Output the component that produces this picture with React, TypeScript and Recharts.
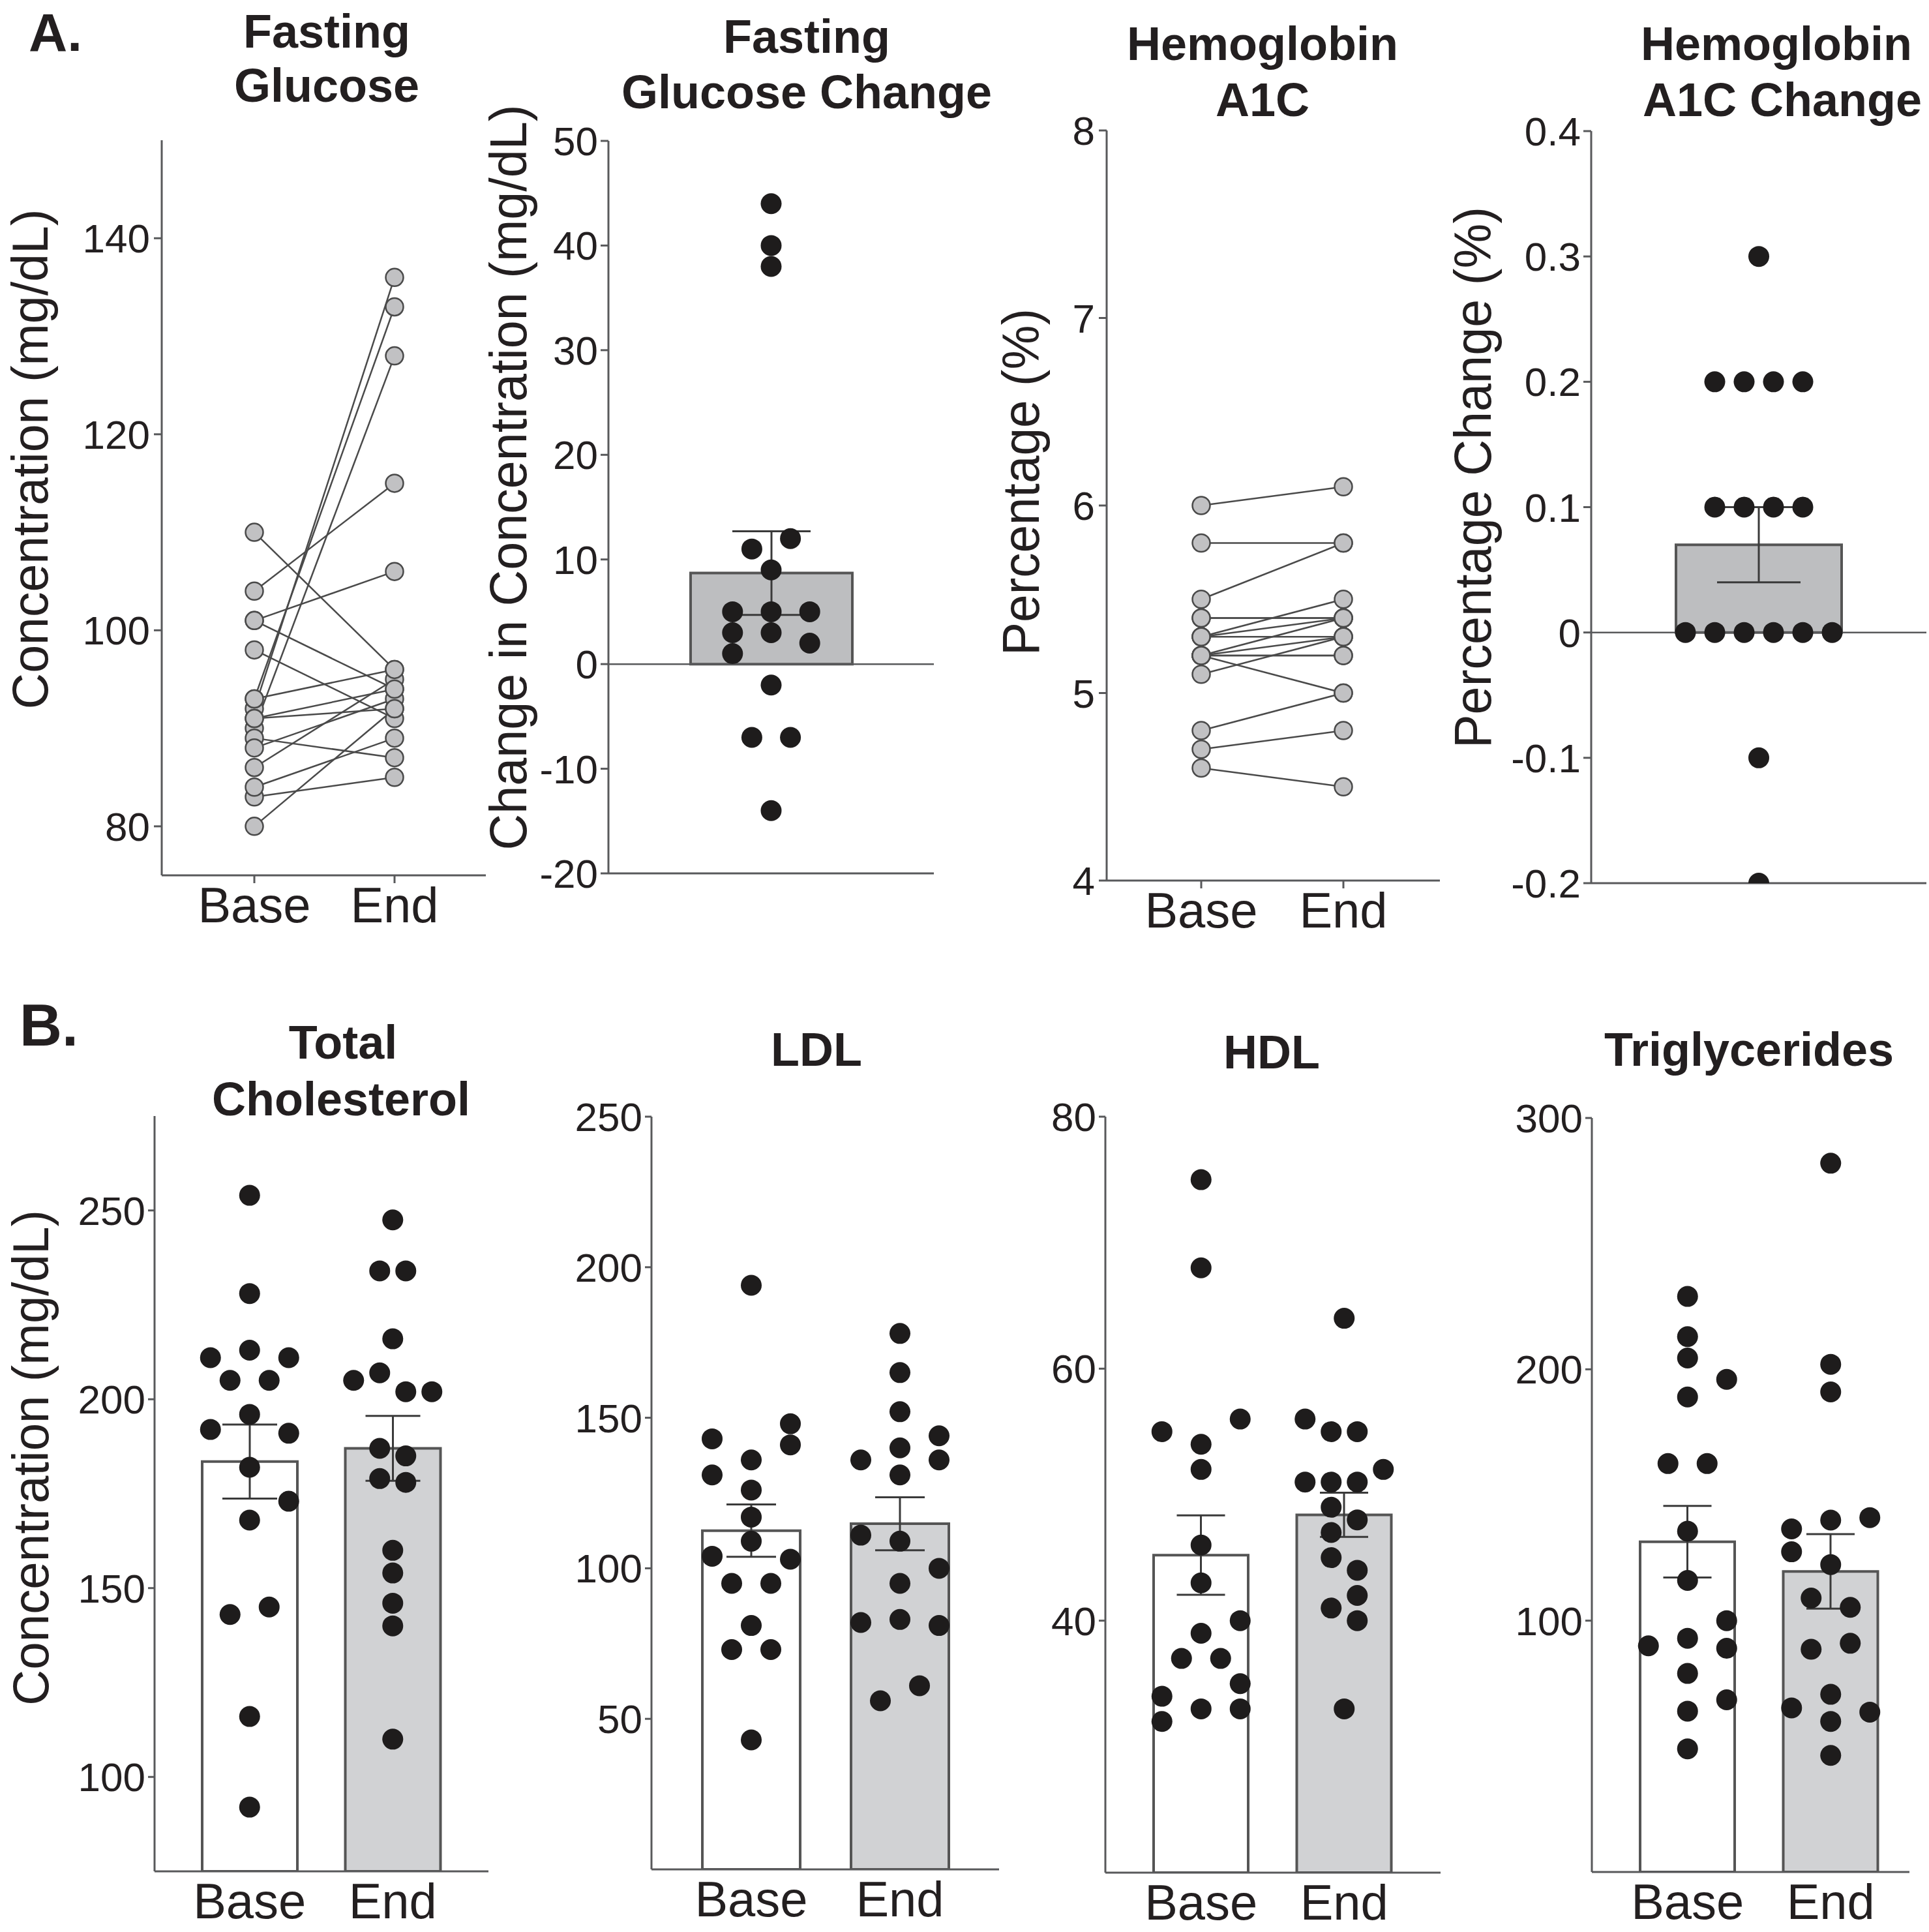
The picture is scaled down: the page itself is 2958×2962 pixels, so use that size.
import React from 'react';
import {
  ComposedChart,
  LineChart,
  Line,
  Bar,
  Cell,
  ErrorBar,
  Scatter,
  XAxis,
  YAxis,
  ReferenceLine,
} from 'recharts';

// ================= DATA =================
const groupNames = ['Base', 'End'];

// A. Fasting glucose (mg/dL), paired per subject
const glucoseBase = [110, 104, 101, 101, 98, 92, 93, 90, 80, 83, 84, 86, 89, 88, 91, 93, 91];
const glucoseEnd = [96, 115, 106, 94, 91, 136, 133, 128, 92, 85, 89, 95, 87, 93, 94, 96, 92];
const glucoseTicks = [80, 100, 120, 140];

// A. Fasting glucose change (mg/dL)
const glucoseChange = [44, 40, 38, 12, 11, 9, 5, 5, 5, 3, 3, 2, 1, -2, -7, -7, -14];
const glucoseChangeSlot = [0, 0, 0, 1, -1, 0, -2, 0, 2, -2, 0, 2, -2, 0, -1, 1, 0];
const glucoseChangeMean = [8.7];
const glucoseChangeSem = [4.0];
const glucoseChangeTicks = [-20, -10, 0, 10, 20, 30, 40, 50];

// A. Hemoglobin A1C (%), paired per subject
const a1cBase = [6.0, 5.8, 5.5, 5.4, 5.4, 5.3, 5.3, 5.3, 5.2, 5.2, 5.2, 5.2, 5.1, 4.8, 4.7, 4.6, 5.2];
const a1cEnd = [6.1, 5.8, 5.8, 5.4, 5.4, 5.5, 5.3, 5.4, 5.3, 5.2, 5.0, 5.4, 5.3, 5.0, 4.8, 4.5, 5.2];
const a1cTicks = [4, 5, 6, 7, 8];

// A. Hemoglobin A1C change (%)
const a1cChange = [0.3, 0.2, 0.2, 0.2, 0.2, 0.1, 0.1, 0.1, 0.1, 0, 0, 0, 0, 0, 0, -0.1, -0.2];
const a1cChangeSlot = [0, -1.5, -0.5, 0.5, 1.5, -1.5, -0.5, 0.5, 1.5, -2.5, -1.5, -0.5, 0.5, 1.5, 2.5, 0, 0];
const a1cChangeMean = [0.07];
const a1cChangeSem = [0.03];
const a1cChangeTicks = [-0.2, -0.1, 0, 0.1, 0.2, 0.3, 0.4];

// B. Total cholesterol (mg/dL)
const tcBase = [254, 228, 213, 211, 211, 205, 205, 196, 192, 191, 182, 173, 168, 143, 145, 116, 92];
const tcBaseSlot = [0, 0, 0, -3, 3, -1.5, 1.5, 0, -3, 3, 0, 3, 0, -1.5, 1.5, 0, 0];
const tcEnd = [247.5, 234, 234, 216, 207, 205, 202, 202, 187, 185, 179, 178, 160, 154, 146, 140, 110];
const tcEndSlot = [0, -1, 1, 0, -1, -3, 1, 3, -1, 1, -1, 1, 0, 0, 0, 0, 0];
const tcMean = [183.5, 187];
const tcSem = [9.8, 8.6];
const tcTicks = [100, 150, 200, 250];

// B. LDL (mg/dL)
const ldlBase = [194, 143, 148, 141, 136, 131, 126, 117, 109, 104, 103, 95, 95, 81, 73, 73, 43];
const ldlBaseSlot = [0, -3, 3, 3, 0, -3, 0, 0, 0, -3, 3, -1.5, 1.5, 0, -1.5, 1.5, 0];
const ldlEnd = [178, 165, 152, 144, 140, 136, 136, 131, 111, 109, 100, 95, 82, 83, 81, 61, 56];
const ldlEndSlot = [0, 0, 0, 3, 0, -3, 3, 0, -3, 0, 3, 0, -3, 0, 3, 1.5, -1.5];
const ldlMean = [112.5, 114.8];
const ldlSem = [8.7, 8.8];
const ldlTicks = [50, 100, 150, 200, 250];

// B. HDL (mg/dL)
const hdlBase = [75, 68, 55, 54, 56, 52, 46, 43, 40, 39, 37, 37, 35, 34, 33, 33, 32];
const hdlBaseSlot = [0, 0, -3, 0, 3, 0, 0, 0, 3, 0, -1.5, 1.5, 3, -3, 0, 3, -3];
const hdlEnd = [64, 56, 55, 55, 52, 51, 51, 51, 49, 48, 47, 45, 44, 42, 41, 40, 33];
const hdlEndSlot = [0, -3, -1, 1, 3, -3, -1, 1, -1, 1, -1, -1, 1, 1, -1, 1, 0];
const hdlMean = [45.2, 48.4];
const hdlSem = [3.15, 1.75];
const hdlTicks = [40, 60, 80];

// B. Triglycerides (mg/dL)
const tgBase = [229, 213, 204.5, 196, 189, 162.5, 162.5, 135.6, 116, 100, 93, 90, 89, 79, 68.5, 64, 49];
const tgBaseSlot = [0, 0, 0, 3, 0, -1.5, 1.5, 0, 0, 3, 0, -3, 3, 0, 3, 0, 0];
const tgEnd = [282, 202, 191, 141, 140, 136.5, 127.4, 122.3, 109, 105.3, 91, 88.6, 70.7, 65.3, 63.6, 59.9, 46.4];
const tgEndSlot = [0, 0, 0, 3, 0, -3, -3, 0, -1.5, 1.5, 1.5, -1.5, 0, -3, 3, 0, 0];
const tgMean = [131.4, 119.6];
const tgSem = [14.25, 14.8];
const tgTicks = [100, 200, 300];

// ================= STYLE =================
const FONT = '"Liberation Sans", Arial, Helvetica, sans-serif';
const INK = '#231f20';
const AXIS = '#58595b';
const LINE = '#4a4a4a';
const DOT = '#1e1c1c';
const GREY_A = '#bdbec0';
const GREY_B = '#d1d2d4';

const YW = 200;
const TM = 56;
const RM = 24;
const XH = 130;
const MARGIN = { top: TM, right: RM, bottom: 0, left: 0 };

type Rect = { l: number; t: number; r: number; b: number };

const dims = (rect: Rect) => ({
  width: rect.r - rect.l + YW + RM,
  height: rect.b - rect.t + TM + XH,
});

function Holder({ rect, children }: { rect: Rect; children: React.ReactNode }) {
  return (
    <div style={{ position: 'absolute', left: rect.l - YW, top: rect.t - TM }}>{children}</div>
  );
}

const yAxisProps = (tickSize: number, tickMargin: number) => ({
  type: 'number' as const,
  width: YW,
  axisLine: { stroke: AXIS, strokeWidth: 3 },
  tickLine: { stroke: AXIS, strokeWidth: 3 },
  tickSize,
  tickMargin,
  tick: { fontSize: 62, fill: INK, fontFamily: FONT },
  interval: 0 as const,
  allowDataOverflow: true,
});

const BlackDot = (p: any) =>
  p.cx == null || p.cy == null ? <g /> : <circle cx={p.cx} cy={p.cy} r={16} fill={DOT} />;

// ---------- paired line panel ----------
function PairPanel({
  rect,
  pad,
  base,
  end,
  domain,
  ticks,
}: {
  rect: Rect;
  pad: [number, number];
  base: number[];
  end: number[];
  domain: [number, number];
  ticks: number[];
}) {
  const keys = base.map((_, i) => 's' + i);
  const rows = [groupNames[0], groupNames[1]].map((name, gi) => {
    const row: any = { name };
    keys.forEach((k, i) => {
      row[k] = gi === 0 ? base[i] : end[i];
    });
    return row;
  });
  const { width, height } = dims(rect);
  return (
    <Holder rect={rect}>
      <LineChart width={width} height={height} data={rows} margin={MARGIN}>
        <XAxis
          dataKey="name"
          type="category"
          scale="point"
          padding={{ left: pad[0], right: pad[1] }}
          axisLine={{ stroke: AXIS, strokeWidth: 3 }}
          tickLine={{ stroke: AXIS, strokeWidth: 3 }}
          tickSize={12}
          tickMargin={6}
          tick={{ fontSize: 76, fill: INK, fontFamily: FONT }}
          height={XH}
          interval={0}
        />
        <YAxis {...yAxisProps(12, 6)} domain={domain} ticks={ticks} />
        {keys.map((k) => (
          <Line
            key={'l' + k}
            dataKey={k}
            stroke={LINE}
            strokeWidth={2.5}
            dot={false}
            activeDot={false}
            isAnimationActive={false}
          />
        ))}
        {keys.map((k) => (
          <Line
            key={'d' + k}
            dataKey={k}
            stroke="none"
            dot={{ r: 13.5, fill: '#c1c1c3', stroke: LINE, strokeWidth: 2.5 }}
            activeDot={false}
            isAnimationActive={false}
          />
        ))}
      </LineChart>
    </Holder>
  );
}

// ---------- bar + swarm panel ----------
function SwarmPanel({
  rect,
  pad,
  cats,
  means,
  sems,
  groups,
  fills,
  domain,
  ticks,
  fmt,
  slotPx,
  barSize,
  capHalf,
  showCats,
  zero,
  yTickSize,
}: {
  rect: Rect;
  pad: [number, number];
  cats: string[];
  means: number[];
  sems: number[];
  groups: { vals: number[]; slots: number[] }[];
  fills: string[];
  domain: [number, number];
  ticks: number[];
  fmt?: (v: number) => string;
  slotPx: number;
  barSize: number;
  capHalf: number;
  showCats: boolean;
  zero: boolean;
  yTickSize: number;
}) {
  const { width, height } = dims(rect);
  const plotW = rect.r - rect.l;
  const bw = (plotW - pad[0] - pad[1]) / cats.length;
  const slotUnit = slotPx / bw;
  const rows = cats.map((name, i) => ({ name, mean: means[i], sem: sems[i] }));
  const pts = groups.flatMap((g, gi) =>
    g.vals.map((v, j) => ({ x: gi + g.slots[j] * slotUnit, y: v }))
  );
  return (
    <Holder rect={rect}>
      <ComposedChart width={width} height={height} data={rows} margin={MARGIN}>
        <XAxis
          xAxisId="cat"
          dataKey="name"
          type="category"
          padding={{ left: pad[0], right: pad[1] }}
          axisLine={{ stroke: AXIS, strokeWidth: 3 }}
          tickLine={false}
          tickSize={10}
          tickMargin={8}
          tick={showCats ? { fontSize: 76, fill: INK, fontFamily: FONT } : false}
          height={XH}
          interval={0}
        />
        <XAxis
          xAxisId="num"
          dataKey="x"
          type="number"
          domain={[-0.5, cats.length - 0.5]}
          padding={{ left: pad[0], right: pad[1] }}
          allowDataOverflow
          height={0}
          hide
        />
        <YAxis
          yAxisId="v"
          {...yAxisProps(yTickSize, 4)}
          domain={domain}
          ticks={ticks}
          tickFormatter={fmt}
        />
        <YAxis
          yAxisId="s"
          dataKey="y"
          type="number"
          domain={domain}
          allowDataOverflow
          width={0}
          hide
        />
        {zero && (
          <ReferenceLine xAxisId="cat" yAxisId="v" y={0} stroke={AXIS} strokeWidth={2.5} />
        )}
        <Bar
          xAxisId="cat"
          yAxisId="v"
          dataKey="mean"
          barSize={barSize}
          stroke="#555555"
          strokeWidth={4}
          isAnimationActive={false}
        >
          {rows.map((r, i) => (
            <Cell key={r.name} fill={fills[i]} />
          ))}
          <ErrorBar dataKey="sem" width={capHalf} stroke="#3a3a3a" strokeWidth={3} direction="y" />
        </Bar>
        <Scatter
          xAxisId="num"
          yAxisId="s"
          data={pts}
          dataKey="y"
          shape={BlackDot}
          isAnimationActive={false}
        />
      </ComposedChart>
    </Holder>
  );
}

// ---------- text overlay ----------
function Overlay() {
  const title = (x: number, y: number, s: string) => (
    <text key={s + y} x={x} y={y} textAnchor="middle" fontSize={72} fontWeight={700} fill={INK} fontFamily={FONT}>
      {s}
    </text>
  );
  const ylab = (x: number, y: number, len: number, s: string, fs: number = 80) => (
    <text
      key={s + x}
      x={x}
      y={y}
      transform={`rotate(-90 ${x} ${y})`}
      textAnchor="middle"
      fontSize={fs}
      fill={INK}
      fontFamily={FONT}
      textLength={len}
      lengthAdjust="spacingAndGlyphs"
    >
      {s}
    </text>
  );
  return (
    <svg
      width={2958}
      height={2962}
      style={{ position: 'absolute', left: 0, top: 0, pointerEvents: 'none' }}
    >
      <text x={44} y={78} fontSize={82} fontWeight={700} fill={INK} fontFamily={FONT}>A.</text>
      <text x={30} y={1603} fontSize={90} fontWeight={700} fill={INK} fontFamily={FONT}>B.</text>
      {title(501, 73, 'Fasting')}
      {title(501, 156, 'Glucose')}
      {title(1237, 81, 'Fasting')}
      {title(1237, 166, 'Glucose Change')}
      {title(1936, 92, 'Hemoglobin')}
      {title(1936, 178, 'A1C')}
      {title(2724, 92, 'Hemoglobin')}
      {title(2733, 178, 'A1C Change')}
      {title(526, 1623, 'Total')}
      {title(523, 1710, 'Cholesterol')}
      {title(1252, 1634, 'LDL')}
      {title(1950, 1638, 'HDL')}
      {title(2682, 1634, 'Triglycerides')}
      {ylab(73, 704, 767, 'Concentration (mg/dL)', 78)}
      {ylab(807, 732, 1143, 'Change in Concentration (mg/dL)')}
      {ylab(1593, 739, 532, 'Percentage (%)')}
      {ylab(2286, 732, 830, 'Percentage Change (%)')}
      {ylab(74, 2235, 760, 'Concentration (mg/dL)', 78)}
    </svg>
  );
}

const fmtA1c = (v: number) => (v === 0 ? '0' : v.toFixed(1));

export default function App() {
  return (
    <div
      style={{
        position: 'absolute',
        left: 0,
        top: 0,
        width: 2958,
        height: 2962,
        overflow: 'hidden',
        background: '#ffffff',
        fontFamily: FONT,
      }}
    >
      <PairPanel
        rect={{ l: 248, t: 215, r: 745, b: 1342 }}
        pad={[142, 140]}
        base={glucoseBase}
        end={glucoseEnd}
        domain={[75, 150]}
        ticks={glucoseTicks}
      />
      <SwarmPanel
        rect={{ l: 933, t: 216, r: 1432, b: 1339 }}
        pad={[0, 0]}
        cats={['Change']}
        means={glucoseChangeMean}
        sems={glucoseChangeSem}
        groups={[{ vals: glucoseChange, slots: glucoseChangeSlot }]}
        fills={[GREY_A]}
        domain={[-20, 50]}
        ticks={glucoseChangeTicks}
        slotPx={29.6}
        barSize={248}
        capHalf={60}
        showCats={false}
        zero={true}
        yTickSize={12}
      />
      <PairPanel
        rect={{ l: 1697, t: 200, r: 2208, b: 1350 }}
        pad={[145, 148]}
        base={a1cBase}
        end={a1cEnd}
        domain={[4, 8]}
        ticks={a1cTicks}
      />
      <SwarmPanel
        rect={{ l: 2440, t: 201, r: 2954, b: 1354 }}
        pad={[0, 0]}
        cats={['Change']}
        means={a1cChangeMean}
        sems={a1cChangeSem}
        groups={[{ vals: a1cChange, slots: a1cChangeSlot }]}
        fills={[GREY_A]}
        domain={[-0.2, 0.4]}
        ticks={a1cChangeTicks}
        fmt={fmtA1c}
        slotPx={45}
        barSize={254}
        capHalf={64}
        showCats={false}
        zero={true}
        yTickSize={12}
      />
      <SwarmPanel
        rect={{ l: 237, t: 1711, r: 749, b: 2869 }}
        pad={[36, 37]}
        cats={groupNames}
        means={tcMean}
        sems={tcSem}
        groups={[
          { vals: tcBase, slots: tcBaseSlot },
          { vals: tcEnd, slots: tcEndSlot },
        ]}
        fills={['#ffffff', GREY_B]}
        domain={[75, 275]}
        ticks={tcTicks}
        slotPx={20}
        barSize={146}
        capHalf={42}
        showCats={true}
        zero={false}
        yTickSize={10}
      />
      <SwarmPanel
        rect={{ l: 999, t: 1712, r: 1532, b: 2866 }}
        pad={[39, 38]}
        cats={groupNames}
        means={ldlMean}
        sems={ldlSem}
        groups={[
          { vals: ldlBase, slots: ldlBaseSlot },
          { vals: ldlEnd, slots: ldlEndSlot },
        ]}
        fills={['#ffffff', GREY_B]}
        domain={[0, 250]}
        ticks={ldlTicks}
        slotPx={20}
        barSize={150}
        capHalf={38}
        showCats={true}
        zero={false}
        yTickSize={10}
      />
      <SwarmPanel
        rect={{ l: 1695, t: 1712, r: 2209, b: 2871 }}
        pad={[37, 38]}
        cats={groupNames}
        means={hdlMean}
        sems={hdlSem}
        groups={[
          { vals: hdlBase, slots: hdlBaseSlot },
          { vals: hdlEnd, slots: hdlEndSlot },
        ]}
        fills={['#ffffff', GREY_B]}
        domain={[20, 80]}
        ticks={hdlTicks}
        slotPx={20}
        barSize={145}
        capHalf={37}
        showCats={true}
        zero={false}
        yTickSize={10}
      />
      <SwarmPanel
        rect={{ l: 2441, t: 1714, r: 2928, b: 2870 }}
        pad={[37, 11]}
        cats={groupNames}
        means={tgMean}
        sems={tgSem}
        groups={[
          { vals: tgBase, slots: tgBaseSlot },
          { vals: tgEnd, slots: tgEndSlot },
        ]}
        fills={['#ffffff', GREY_B]}
        domain={[0, 300]}
        ticks={tgTicks}
        slotPx={20}
        barSize={145}
        capHalf={37}
        showCats={true}
        zero={false}
        yTickSize={10}
      />
      <Overlay />
    </div>
  );
}
